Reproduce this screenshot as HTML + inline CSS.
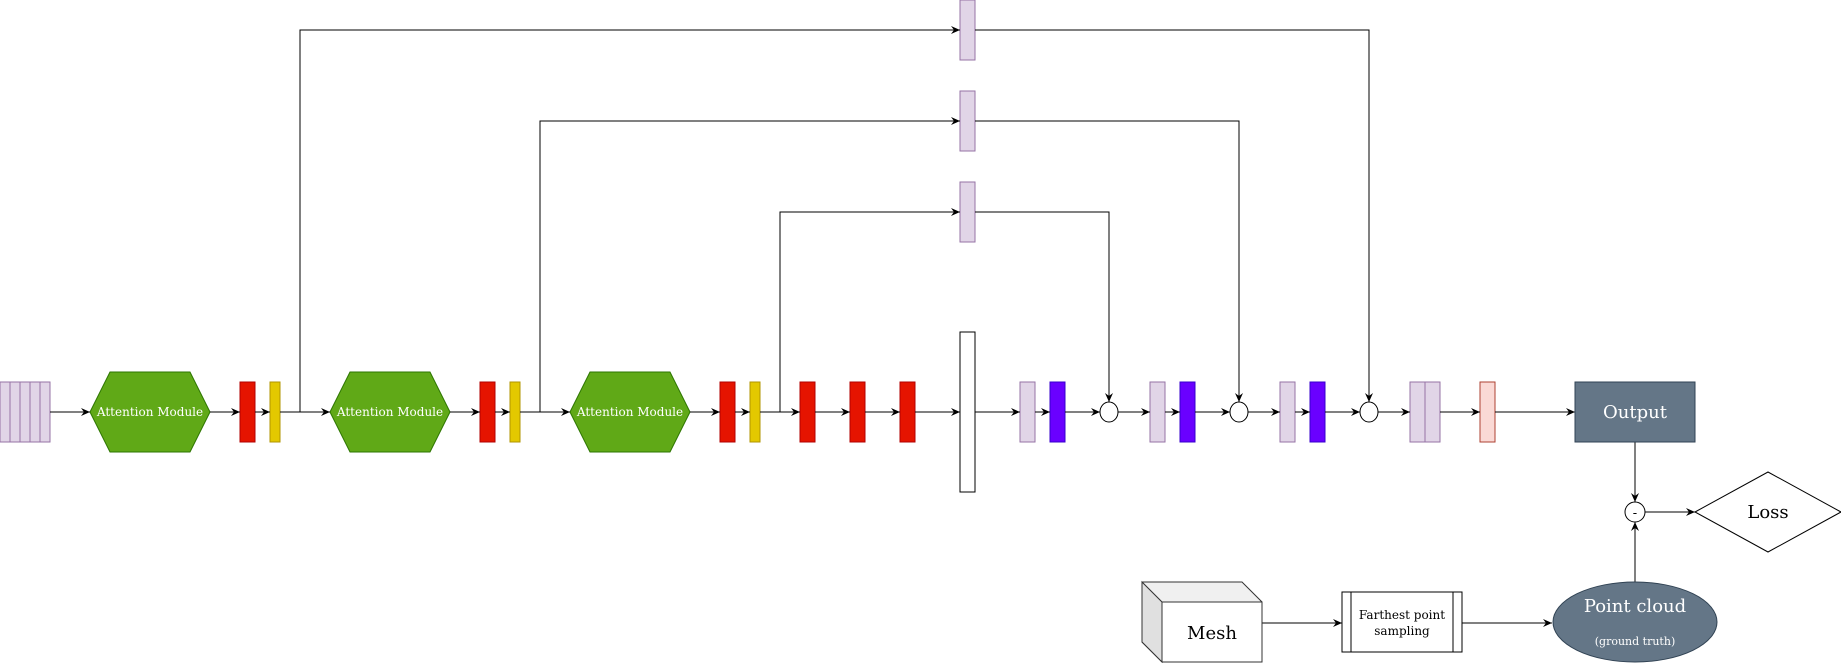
<!DOCTYPE html>
<html><head><style>body{margin:0;background:#fff}svg{display:block}</style></head><body>
<svg width="1841" height="663" viewBox="0 0 1841 663" xmlns="http://www.w3.org/2000/svg" font-family="'DejaVu Serif','Liberation Serif',serif">
<defs><marker id="a" markerWidth="10" markerHeight="10" refX="9" refY="5" orient="auto" markerUnits="userSpaceOnUse"><path d="M0,1 L9,5 L0,9 L3,5z" fill="#000"/></marker></defs>
<g fill="#e1d5e7" stroke="#9673a6">
<rect x="0" y="382" width="10" height="60"/><rect x="10" y="382" width="10" height="60"/><rect x="20" y="382" width="10" height="60"/><rect x="30" y="382" width="10" height="60"/><rect x="40" y="382" width="10" height="60"/>
<rect x="960" y="0" width="15" height="60"/><rect x="960" y="91" width="15" height="60"/><rect x="960" y="182" width="15" height="60"/>
<rect x="1020" y="382" width="15" height="60"/><rect x="1150" y="382" width="15" height="60"/><rect x="1280" y="382" width="15" height="60"/>
<rect x="1410" y="382" width="15" height="60"/><rect x="1425" y="382" width="15" height="60"/>
</g>
<g fill="#60a917" stroke="#2d7600">
<polygon points="110,372 190,372 210,412 190,452 110,452 90,412"/>
<polygon points="350,372 430,372 450,412 430,452 350,452 330,412"/>
<polygon points="590,372 670,372 690,412 670,452 590,452 570,412"/>
</g>
<g fill="#fff" font-size="12" text-anchor="middle"><text x="150" y="416">Attention Module</text><text x="390" y="416">Attention Module</text><text x="630" y="416">Attention Module</text></g>
<g fill="#e51400" stroke="#b20000">
<rect x="240" y="382" width="15" height="60"/><rect x="480" y="382" width="15" height="60"/><rect x="720" y="382" width="15" height="60"/>
<rect x="800" y="382" width="15" height="60"/><rect x="850" y="382" width="15" height="60"/><rect x="900" y="382" width="15" height="60"/>
</g>
<g fill="#e3c800" stroke="#b09500"><rect x="270" y="382" width="10" height="60"/><rect x="510" y="382" width="10" height="60"/><rect x="750" y="382" width="10" height="60"/></g>
<rect x="960" y="332" width="15" height="160" fill="#fff" stroke="#000"/>
<g fill="#6a00ff" stroke="#3700cc"><rect x="1050" y="382" width="15" height="60"/><rect x="1180" y="382" width="15" height="60"/><rect x="1310" y="382" width="15" height="60"/></g>
<rect x="1480" y="382" width="15" height="60" fill="#fad9d5" stroke="#ae4132"/>
<g fill="#fff" stroke="#000"><ellipse cx="1109" cy="412" rx="9" ry="10"/><ellipse cx="1239" cy="412" rx="9" ry="10"/><ellipse cx="1369" cy="412" rx="9" ry="10"/></g>
<g stroke="#000" fill="none" marker-end="url(#a)" stroke-width="1">
<path d="M50,412H90"/><path d="M210,412H240"/><path d="M255,412H270"/><path d="M280,412H330"/>
<path d="M450,412H480"/><path d="M495,412H510"/><path d="M520,412H570"/>
<path d="M690,412H720"/><path d="M735,412H750"/><path d="M760,412H800"/><path d="M815,412H850"/><path d="M865,412H900"/><path d="M915,412H960"/>
<path d="M975,412H1020"/><path d="M1035,412H1050"/><path d="M1065,412H1100"/>
<path d="M1118,412H1150"/><path d="M1165,412H1180"/><path d="M1195,412H1230"/>
<path d="M1248,412H1280"/><path d="M1295,412H1310"/><path d="M1325,412H1360"/>
<path d="M1378,412H1410"/><path d="M1440,412H1480"/><path d="M1495,412H1575"/>
<path d="M300,412V30H960"/><path d="M540,412V121H960"/><path d="M780,412V212H960"/>
<path d="M975,212H1109V402"/><path d="M975,121H1239V402"/><path d="M975,30H1369V402"/>
<path d="M1635,442V502"/><path d="M1635,582V522"/><path d="M1645,512H1695"/>
<path d="M1262,623H1342"/><path d="M1462,623H1552"/>
</g>
<rect x="1575" y="382" width="120" height="60" fill="#647687" stroke="#314354"/>
<text x="1635" y="418" fill="#fff" font-size="18" text-anchor="middle">Output</text>
<ellipse cx="1635" cy="512" rx="10" ry="10" fill="#fff" stroke="#000"/>
<text x="1635" y="517" font-size="13" text-anchor="middle">-</text>
<polygon points="1695,512 1768,472 1841,512 1768,552" fill="#fff" stroke="#000"/>
<text x="1768" y="518" font-size="18" text-anchor="middle">Loss</text>
<polygon points="1142,582 1242,582 1262,602 1262,662 1162,662 1142,642" fill="#f0f0f0" stroke="#333"/>
<polygon points="1142,582 1162,602 1162,662 1142,642" fill="#e0e0e0" stroke="#333"/>
<rect x="1162" y="602" width="100" height="60" fill="#fff" stroke="#333"/>
<text x="1212" y="639" font-size="18" text-anchor="middle">Mesh</text>
<rect x="1342" y="592" width="120" height="60" fill="#fff" stroke="#000"/>
<path d="M1351,592V652M1453,592V652" stroke="#000"/>
<text x="1402" y="619" font-size="12" text-anchor="middle">Farthest point</text>
<text x="1402" y="635" font-size="12" text-anchor="middle">sampling</text>
<ellipse cx="1635" cy="622" rx="82" ry="40" fill="#647687" stroke="#314354"/>
<text x="1635" y="612" fill="#fff" font-size="18" text-anchor="middle">Point cloud</text>
<text x="1635" y="645" fill="#fff" font-size="11" text-anchor="middle">(ground truth)</text>
</svg>
</body></html>
